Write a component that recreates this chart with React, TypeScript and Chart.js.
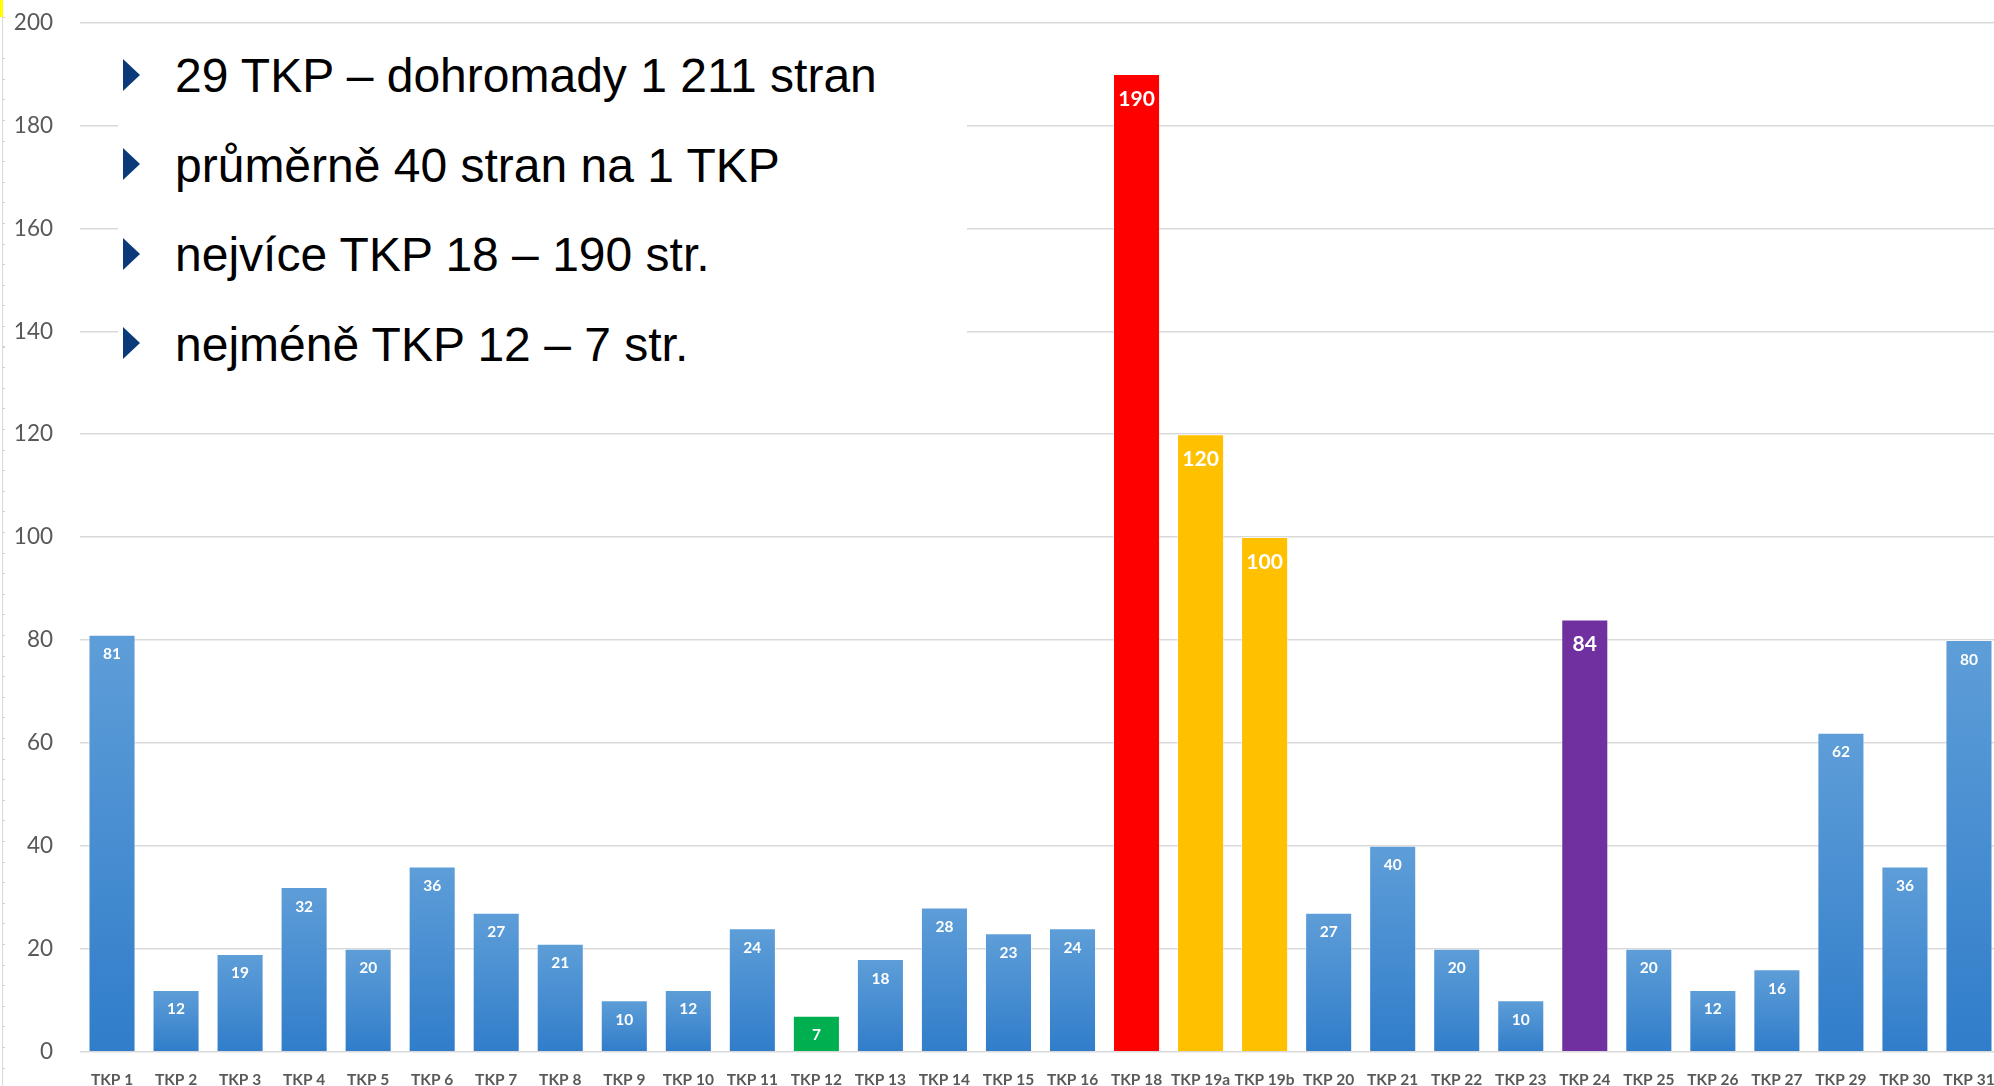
import { useEffect, useRef } from "react";
import { Chart, registerables } from "chart.js";

Chart.register(...registerables);

const categories = [
  "TKP 1", "TKP 2", "TKP 3", "TKP 4", "TKP 5", "TKP 6", "TKP 7", "TKP 8", "TKP 9", "TKP 10",
  "TKP 11", "TKP 12", "TKP 13", "TKP 14", "TKP 15", "TKP 16", "TKP 18", "TKP 19a", "TKP 19b", "TKP 20",
  "TKP 21", "TKP 22", "TKP 23", "TKP 24", "TKP 25", "TKP 26", "TKP 27", "TKP 29", "TKP 30", "TKP 31",
];
const pages = [
  81, 12, 19, 32, 20, 36, 27, 21, 10, 12,
  24, 7, 18, 28, 23, 24, 190, 120, 100, 27,
  40, 20, 10, 84, 20, 12, 16, 62, 36, 80,
];
const yMin = 0;
const yMax = 200;
const yStep = 20;
const bullets = [
  "29 TKP – dohromady 1 211 stran",
  "průměrně 40 stran na 1 TKP",
  "nejvíce TKP 18 – 190 str.",
  "nejméně TKP 12 – 7 str.",
];
const highlightColors: Record<string, string> = {
  "TKP 12": "#00b050",
  "TKP 18": "#ff0000",
  "TKP 19a": "#ffc000",
  "TKP 19b": "#ffc000",
  "TKP 24": "#7030a0",
};
const bigLabelCats = ["TKP 18", "TKP 19a", "TKP 19b", "TKP 24"];

const labelPlugin = {
  id: "barValueLabels",
  afterDatasetsDraw(chart: any) {
    const ctx = chart.ctx;
    const meta = chart.getDatasetMeta(0);
    ctx.save();
    ctx.fillStyle = "#ffffff";
    ctx.textAlign = "center";
    ctx.textBaseline = "middle";
    meta.data.forEach((el: any, i: number) => {
      const big = bigLabelCats.includes(categories[i]);
      ctx.font = big ? "bold 21px Lato, 'Liberation Sans', sans-serif" : "bold 15.5px Lato, 'Liberation Sans', sans-serif";
      const off = big ? 25 : 19.5;
      ctx.fillText(String(pages[i]), el.x, el.y + off);
    });
    ctx.restore();
  },
};

export default function App() {
  const ref = useRef<HTMLCanvasElement | null>(null);

  useEffect(() => {
    if (!ref.current) return;
    const chart = new Chart(ref.current, {
      type: "bar",
      data: {
        labels: categories,
        datasets: [
          {
            data: pages,
            backgroundColor: (c: any) => {
              const cat = categories[c.dataIndex];
              if (cat && highlightColors[cat]) return highlightColors[cat];
              const chartObj = c.chart;
              const ys = chartObj.scales && chartObj.scales.y;
              if (!ys || c.raw === undefined) return "#4a8fd3";
              const top = ys.getPixelForValue(c.raw);
              const bot = ys.getPixelForValue(0);
              if (!isFinite(top) || !isFinite(bot) || top === bot) return "#4a8fd3";
              const g = chartObj.ctx.createLinearGradient(0, top, 0, bot);
              g.addColorStop(0, "#5e9ed8");
              g.addColorStop(1, "#317dca");
              return g;
            },
            borderColor: "rgba(255,255,255,0.45)",
            borderWidth: 1,
            barPercentage: 0.735,
            categoryPercentage: 1,
          },
        ],
      },
      options: {
        responsive: false,
        animation: false,
        layout: { padding: { top: 22.5, left: 0, right: 0, bottom: 0 } },
        plugins: { legend: { display: false }, tooltip: { enabled: false } },
        scales: {
          x: {
            offset: true,
            grid: { display: true, drawOnChartArea: false, drawTicks: true, tickLength: 19, tickColor: "rgba(0,0,0,0)" },
            border: { display: false },
            ticks: {
              color: "#595959",
              font: { family: "Lato, 'Liberation Sans', sans-serif", size: 15.5, weight: "bold" },
              padding: 0,
              maxRotation: 0,
              autoSkip: false,
            },
            afterFit: (s: any) => {
              s.height = 34.3;
            },
          },
          y: {
            min: yMin,
            max: yMax,
            grid: { color: "#d9d9d9", lineWidth: 1.5, drawTicks: true, tickLength: 27, tickColor: "rgba(0,0,0,0)" },
            border: { display: false },
            ticks: {
              stepSize: yStep,
              color: "#595959",
              font: { family: "Lato, 'Liberation Sans', sans-serif", size: 22.5 },
              padding: 0,
            },
            afterFit: (s: any) => {
              s.width = 80;
            },
          },
        },
      },
      plugins: [labelPlugin],
    });
    return () => chart.destroy();
  }, []);

  const baselines = [93, 182.4, 271.8, 361.2];
  const fs = 48;

  return (
    <div
      style={{
        position: "fixed",
        left: 0,
        top: 0,
        width: 1994,
        height: 1086,
        overflow: "hidden",
        background: "#ffffff",
      }}
    >
      <canvas ref={ref} width={2001} height={1086} style={{ position: "absolute", left: 0, top: 0, width: 2001, height: 1086 }} />
      <div style={{ position: "absolute", left: 2, top: 0, width: 1, height: 1086, background: "#d9d9d9" }} />
      <div
        style={{
          position: "absolute",
          left: 3,
          top: 0,
          width: 2,
          height: 1086,
          backgroundImage: "repeating-linear-gradient(to bottom, transparent 0px, transparent 16.9px, #d0d0d0 16.9px, #d0d0d0 17.9px, transparent 17.9px, transparent 20.6px)",
        }}
      />
      <div style={{ position: "absolute", left: 0, top: 0, width: 3, height: 17, background: "#ffff00" }} />
      <div style={{ position: "absolute", left: 118, top: 30, width: 849, height: 365, background: "#ffffff" }} />
      {bullets.map((b, i) => (
        <div key={i}>
          <div
            style={{
              position: "absolute",
              left: 123,
              top: baselines[i] - 34,
              width: 0,
              height: 0,
              borderLeft: "17px solid #0b3a7a",
              borderTop: "16.5px solid transparent",
              borderBottom: "16.5px solid transparent",
            }}
          />
          <div
            style={{
              position: "absolute",
              left: 175,
              top: baselines[i] - 0.8465 * fs,
              fontFamily: "'Liberation Sans', Arial, sans-serif",
              fontSize: fs,
              lineHeight: `${fs}px`,
              color: "#000000",
              whiteSpace: "nowrap",
            }}
          >
            {b}
          </div>
        </div>
      ))}
    </div>
  );
}
